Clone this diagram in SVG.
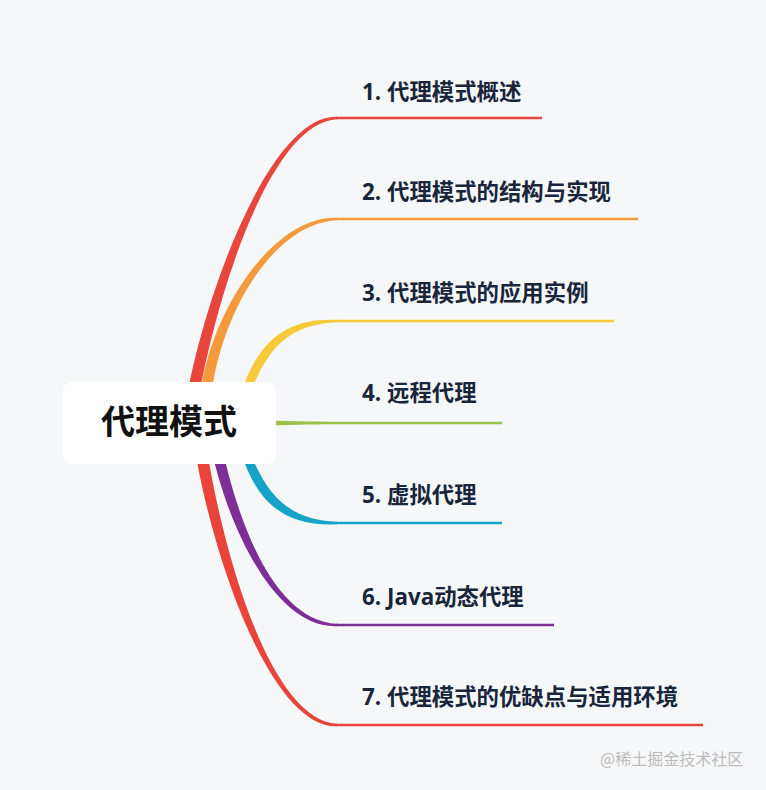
<svg xmlns="http://www.w3.org/2000/svg" width="766" height="790" viewBox="0 0 766 790">
  <style>
    .lbl { font-family: "Open Sans", "Noto Sans CJK SC", sans-serif; font-weight: 700; font-size: 22.4px; fill: #18253a; }
    .root { font-family: "Noto Sans CJK SC", sans-serif; font-weight: 700; font-size: 34px; fill: #111111; }
    .wm { font-family: "Noto Sans CJK SC", sans-serif; font-size: 16px; fill: #bdbdbd; }
    .ln { fill: none; stroke-width: 2.5; stroke-linecap: butt; }
  </style>
  <rect x="0" y="0" width="766" height="790" fill="#f6f7f9"/>
  <g id="connectors">
    <!-- 1 red -->
    <path fill="#e8453c" d="M181,430 C199.5,300 270,114 337,116.8 L337,119.2 C270,122 212.5,300 193,430 Z"/>
    <line class="ln" stroke="#e8453c" x1="336" y1="118" x2="542" y2="118"/>
    <!-- 2 orange -->
    <path fill="#f59a3b" d="M199.5,400 C209,310 275,215 337,217.8 L337,220.2 C275,223 221,310 210.5,400 Z"/>
    <line class="ln" stroke="#f59a3b" x1="336" y1="219" x2="638" y2="219"/>
    <!-- 3 yellow -->
    <path fill="#f8c93b" d="M240.5,395 C258,338 290,317.5 337,319.8 L337,322.2 C290,324.5 268,346 249.5,395 Z"/>
    <line class="ln" stroke="#f8c93b" x1="336" y1="321" x2="614" y2="321"/>
    <!-- 4 green -->
    <path fill="#9dc24b" d="M268,420.6 C300,421.4 320,421.8 340,421.8 L502,421.8 L502,424.2 L340,424.2 C320,424.2 300,424.6 268,425.4 Z"/>
    <!-- 5 cyan -->
    <path fill="#15a3c8" d="M240.5,451 C258,508 290,526.5 337,524.2 L337,521.8 C290,519.5 268,498 249.5,451 Z"/>
    <line class="ln" stroke="#15a3c8" x1="336" y1="523" x2="502" y2="523"/>
    <!-- 6 purple -->
    <path fill="#7e2f97" d="M209.5,440 C226,525 275,629 337,626.2 L337,623.8 C275,621 238,525 220.5,440 Z"/>
    <line class="ln" stroke="#7e2f97" x1="336" y1="625" x2="554" y2="625"/>
    <!-- 7 red -->
    <path fill="#e8443a" d="M190,416 C205.5,546 270,729 337,726.2 L337,723.8 C270,721 218.5,546 202,416 Z"/>
    <line class="ln" stroke="#e8443a" x1="336" y1="725" x2="703" y2="725"/>
  </g>
  <g id="root">
    <rect x="63" y="382" width="213" height="82" rx="9" ry="9" fill="#ffffff"/>
    <text class="root" x="169" y="434" text-anchor="middle">代理模式</text>
  </g>
  <g id="n1"><text class="lbl" x="362" y="100">1. 代理模式概述</text></g>
  <g id="n2"><text class="lbl" x="362" y="200">2. 代理模式的结构与实现</text></g>
  <g id="n3"><text class="lbl" x="362" y="301">3. 代理模式的应用实例</text></g>
  <g id="n4"><text class="lbl" x="362" y="401">4. 远程代理</text></g>
  <g id="n5"><text class="lbl" x="362" y="503">5. 虚拟代理</text></g>
  <g id="n6"><text class="lbl" x="362" y="605">6. Java动态代理</text></g>
  <g id="n7"><text class="lbl" x="362" y="705">7. 代理模式的优缺点与适用环境</text></g>
  <text class="wm" x="600" y="765">@稀土掘金技术社区</text>
</svg>
